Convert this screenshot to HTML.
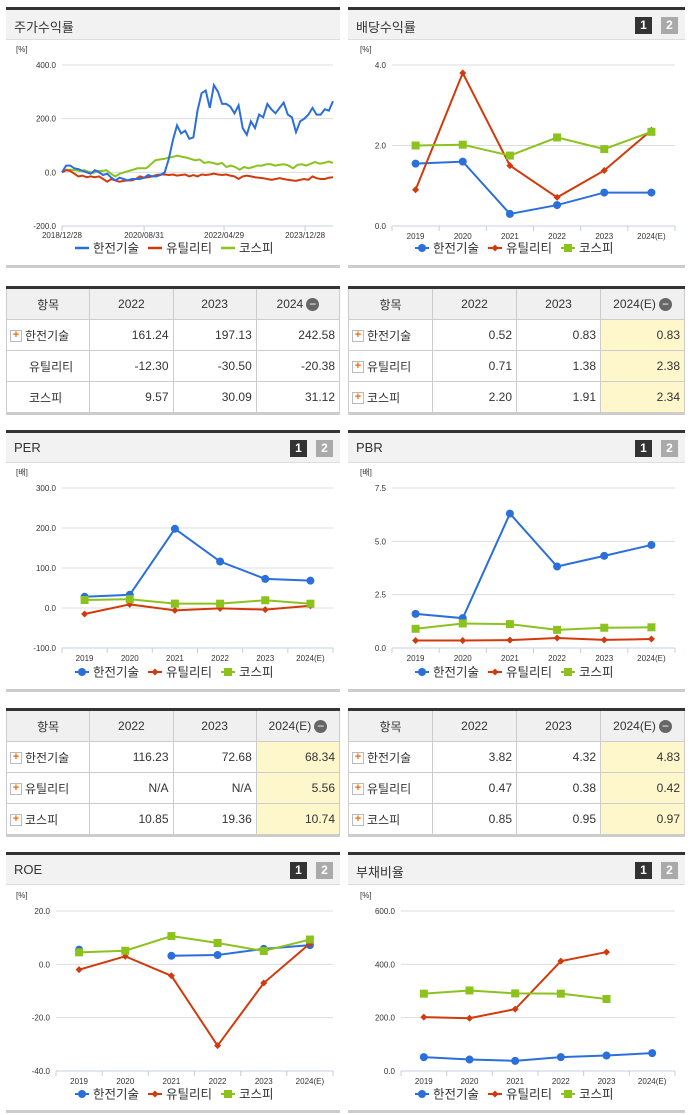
<!DOCTYPE html>
<html><head><meta charset="utf-8">
<style>
body{margin:0;background:#fff;font-family:"Liberation Sans","Noto Sans CJK KR",sans-serif;}
#root{position:relative;width:691px;height:1115px;overflow:hidden;}
.hdr{position:absolute;height:29px;background:#f2f2f2;border-top:3px solid #333;border-bottom:1px solid #ddd;font-size:13px;color:#333;box-sizing:content-box}
.hdr span.t{position:absolute;left:8px;top:7px}
.pg{position:absolute;top:7px;width:17px;height:17px;font-size:12px;font-weight:bold;color:#fff;text-align:center;line-height:17px}
.bot{position:absolute;height:3px;background:#ccc}
table{position:absolute;border-collapse:collapse;font-size:12px;color:#333;border-top:3px solid #333;border-bottom:3px solid #ccc}
td,th{border:1px solid #ccc;height:30px;padding:0 4px;font-weight:normal;vertical-align:middle}
th{background:#f0f0f0;text-align:center}
td{text-align:right}
td.n{text-align:left;padding-left:18px;position:relative}
td.hl{background:#fff7cc}
.pl{position:absolute;left:3px;top:10px;width:10px;height:10px;border:1px solid #bbb;background:#fff;color:#f60;font-size:11px;line-height:9px;text-align:center;font-weight:bold}
.mn{display:inline-block;width:13px;height:13px;border-radius:50%;background:#666;color:#fff;line-height:13px;font-size:12px;vertical-align:middle;margin-left:3px;text-align:center}
svg{position:absolute;left:0;top:0}
</style></head><body><div id="root">
<svg id="svg" width="691" height="1115"></svg>
</div>
<script>
// ---- data ----
const years=["2019","2020","2021","2022","2023","2024(E)"];
const stockKepco=[0,25,25,15,12,5,0,-5,8,0,-10,-5,-20,-30,-20,-25,-30,-25,-25,-25,-20,-10,-15,-15,-10,0,50,120,175,145,155,125,130,230,295,305,240,325,300,255,255,245,220,250,165,140,190,165,215,205,255,235,220,240,260,215,205,150,190,200,215,240,215,215,235,230,265];
const stockUtil=[0,8,5,-5,-15,-12,-18,-15,-18,-15,-25,-35,-25,-30,-35,-32,-30,-30,-25,-15,-20,-18,-15,-10,-8,-8,-10,-8,-12,-10,-8,-15,-10,-15,-8,-10,-8,-5,-8,-10,-8,-12,-15,-25,-15,-12,-15,-18,-20,-22,-25,-28,-25,-22,-25,-28,-30,-32,-28,-25,-28,-15,-22,-25,-25,-20,-18];
const stockKospi=[0,10,10,8,5,8,2,-2,5,5,8,-5,-15,-5,0,5,10,15,15,15,30,45,48,50,55,58,62,58,55,50,45,48,35,38,35,30,35,20,25,20,10,20,15,20,25,25,30,30,25,28,30,25,15,28,30,25,32,38,32,35,40,35];
const stockTicks=["2018/12/28","2020/08/31","2022/04/29","2023/12/28"];
const stockTickPos=[0,0.303,0.598,0.897];
const divKepco=[1.55,1.6,0.3,0.52,0.83,0.83];
const divUtil=[0.9,3.8,1.5,0.71,1.38,2.38];
const divKospi=[2.0,2.02,1.75,2.2,1.91,2.34];
const perKepco=[28,33,198,116.23,72.68,68.34];
const perUtil=[-15,9,-6,-1,-4,5.56];
const perKospi=[20,22,11,10.85,19.36,10.74];
const pbrKepco=[1.6,1.4,6.3,3.82,4.32,4.83];
const pbrUtil=[0.35,0.35,0.37,0.47,0.38,0.42];
const pbrKospi=[0.9,1.15,1.12,0.85,0.95,0.97];
const roeKepco=[5.5,null,3.2,3.5,5.8,7.2];
const roeUtil=[-2,3,-4.3,-30.5,-7,7.8];
const roeKospi=[4.5,5.1,10.6,8,5,9.3];
const debtKepco=[52,43,38,52,58,67];
const debtUtil=[202,198,232,412,446,null];
const debtKospi=[290,302,291,290,270,null];

const NS="http://www.w3.org/2000/svg";
const svg=document.getElementById('svg');
const root=document.getElementById('root');
function mk(tag,attrs,parent){const e=document.createElementNS(NS,tag);for(const k in attrs)e.setAttribute(k,attrs[k]);(parent||svg).appendChild(e);return e;}
const C={b:"#2a6fdb",r:"#d23a0c",g:"#8cc21e"};

function header(x,y,w,title,pages){
  const d=document.createElement('div');d.className='hdr';
  
  
  d.style.left=x+'px';d.style.top=y+'px';d.style.width=w+'px';
  d.innerHTML='<span class="t">'+title+'</span>';
  if(pages){
    const p1=document.createElement('div');p1.className='pg';p1.textContent='1';p1.style.background='#333';p1.style.left=(w-50)+'px';
    
    
    const p2=document.createElement('div');p2.className='pg';p2.textContent='2';p2.style.background='#aaa';p2.style.left=(w-24)+'px';
    
    
    d.appendChild(p1);d.appendChild(p2);
  }
  root.appendChild(d);
  return d;
}
function bottom(x,y,w){const d=document.createElement('div');d.className='bot';d.style.left=x+'px';d.style.top=y+'px';d.style.width=w+'px';
  
  
  root.appendChild(d);}

function marker(type,x,y,col,g){
  let e;
  if(type==='c')e=mk('circle',{cx:x,cy:y,r:4,fill:col},g);
  else if(type==='d')e=mk('path',{d:`M${x} ${y-3.5}L${x+3.5} ${y}L${x} ${y+3.5}L${x-3.5} ${y}Z`,fill:col},g);
  else e=mk('rect',{x:x-4,y:y-4,width:8,height:8,fill:col},g);
  
  
}
function legend(cx,y,lineOnly){
  const g=mk('g',{});
  const items=[["한전기술",C.b,'c'],["유틸리티",C.r,'d'],["코스피",C.g,'s']];
  const widths=[73,73,60];let x=cx-103;
  items.forEach((it,i)=>{
    const e=mk('g',{},g);
    
    
    mk('line',{x1:x,x2:x+14,y1:y,y2:y,stroke:it[1],'stroke-width':lineOnly?2.5:2},e);
    if(!lineOnly)marker(it[2],x+7,y,it[1],e);
    const t=mk('text',{x:x+18,y:y+4.5,'font-size':12.5,fill:'#333'},e);t.textContent=it[0];
    x+=widths[i];
  });
}
function yaxis(g,L,R,T,B,ticks,unit,fmt){
  const ys=v=>B-(v-ticks[0])/(ticks[ticks.length-1]-ticks[0])*(B-T);
  ticks.forEach(v=>{
    if(v!==ticks[0]){mk('line',{x1:L,x2:R,y1:ys(v),y2:ys(v),stroke:'#ddd'},g);}
    const t=mk('text',{x:L-6,y:ys(v)+3,'font-size':8,fill:'#333','text-anchor':'end'},g);t.textContent=v.toFixed(1);
    
  });
  const u=mk('text',{x:L-(fmt||40),y:T-13,'font-size':8,fill:'#333'},g);u.textContent=unit;
  
  mk('line',{x1:L,x2:R,y1:B,y2:B,stroke:'#c5cfe0'},g);
  mk('line',{x1:L,x2:L,y1:B,y2:B+5,stroke:'#c5cfe0'},g);
  return ys;
}
function catChart(name,L,R,T,B,ticks,unit,uoff,series){
  const g=mk('g',{});
  const ys=yaxis(g,L,R,T,B,ticks,unit,uoff);
  const band=(R-L)/years.length;const xs=i=>L+band*(i+0.5);
  years.forEach((y,i)=>{
    mk('line',{x1:L+band*(i+1),x2:L+band*(i+1),y1:B,y2:B+5,stroke:'#c5cfe0'},g);
    const t=mk('text',{x:xs(i),y:B+13,'font-size':8,fill:'#333','text-anchor':'middle'},g);t.textContent=y;
    
  });
  series.forEach(([vals,col,m])=>{
    const s=mk('g',{},g);
    let d='',pen=false;
    vals.forEach((v,i)=>{if(v===null){pen=false;return;}d+=(pen?'L':'M')+xs(i)+' '+ys(v);pen=true;});
    mk('path',{d:d,fill:'none',stroke:col,'stroke-width':2},s);
    vals.forEach((v,i)=>{if(v!==null)marker(m,xs(i),ys(v),col,s);});
  });
}

// panels
const LX=6,LW=334,RX=348,RW=337;
header(LX,7,LW,'주가수익률',false);header(RX,7,RW,'배당수익률',true);
bottom(LX,265,LW);bottom(RX,265,RW);
header(LX,430,LW,'PER',true);header(RX,430,RW,'PBR',true);
bottom(LX,689,LW);bottom(RX,689,RW);
header(LX,852,LW,'ROE',true);header(RX,852,RW,'부채비율',true);
bottom(LX,1110,LW);bottom(RX,1110,RW);

// stock chart
(function(){
  const L=62,R=333,T=65,B=226;
  const g=mk('g',{});
  const ys=yaxis(g,L,R,T,B,[-200,0,200,400],'[%]',46);
  stockTicks.forEach((s,i)=>{const x=L+stockTickPos[i]*(R-L);
    mk('line',{x1:x,x2:x,y1:B,y2:B+5,stroke:'#c5cfe0'},g);
    const t=mk('text',{x:x,y:B+12,'font-size':8,fill:'#333','text-anchor':'middle'},g);t.textContent=s;
    });
  [[stockKospi,C.g],[stockUtil,C.r],[stockKepco,C.b]].forEach(([v,c])=>{
    const d=v.map((y,i)=>(i?'L':'M')+(L+i/(v.length-1)*(R-L)).toFixed(1)+' '+ys(y).toFixed(1)).join('');
    const p=mk('path',{d:d,fill:'none',stroke:c,'stroke-width':2},g);
    
  });
  legend(178,248,true);
})();
catChart('dividend-yield-chart',392,675,65,226,[0,2,4],'[%]',32,[[divKepco,C.b,'c'],[divUtil,C.r,'d'],[divKospi,C.g,'s']]);
legend(518,248);
catChart('per-chart',62,333,488,648,[-100,0,100,200,300],'[배]',46,[[perKepco,C.b,'c'],[perUtil,C.r,'d'],[perKospi,C.g,'s']]);
legend(178,672);
catChart('pbr-chart',392,675,488,648,[0,2.5,5,7.5],'[배]',32,[[pbrKepco,C.b,'c'],[pbrUtil,C.r,'d'],[pbrKospi,C.g,'s']]);
legend(518,672);
catChart('roe-chart',56,333,911,1071,[-40,-20,0,20],'[%]',40,[[roeKepco,C.b,'c'],[roeUtil,C.r,'d'],[roeKospi,C.g,'s']]);
legend(178,1094);
catChart('debt-ratio-chart',401,675,911,1071,[0,200,400,600],'[%]',41,[[debtKepco,C.b,'c'],[debtUtil,C.r,'d'],[debtKospi,C.g,'s']]);
legend(518,1094);

// tables
function table(x,y,w,head,rows,hl){
  const t=document.createElement('table');t.style.left=x+'px';t.style.top=y+'px';t.style.width=w+'px';
  
  
  let h='<tr>'+head.map((c,i)=>'<th style="width:25%">'+c+(i==3?'<span class="mn">−</span>':'')+'</th>').join('')+'</tr>';
  rows.forEach(r=>{h+='<tr>'+r.map((c,i)=>{
    if(i==0)return '<td class="n" style="'+(r[4]?'':'padding-left:22px')+'">'+(r[4]?'<span class="pl">+</span>':'')+c+'</td>';
    if(i>3)return '';
    return '<td'+(i==3&&hl?' class="hl"':'')+'>'+c+'</td>';}).join('')+'</tr>';});
  t.innerHTML=h;root.appendChild(t);
}
table(LX,286,LW,['항목','2022','2023','2024'],[['한전기술','161.24','197.13','242.58',1],['유틸리티','-12.30','-30.50','-20.38',0],['코스피','9.57','30.09','31.12',0]],false);
table(RX,286,RW,['항목','2022','2023','2024(E)'],[['한전기술','0.52','0.83','0.83',1],['유틸리티','0.71','1.38','2.38',1],['코스피','2.20','1.91','2.34',1]],true);
table(LX,708,LW,['항목','2022','2023','2024(E)'],[['한전기술','116.23','72.68','68.34',1],['유틸리티','N/A','N/A','5.56',1],['코스피','10.85','19.36','10.74',1]],true);
table(RX,708,RW,['항목','2022','2023','2024(E)'],[['한전기술','3.82','4.32','4.83',1],['유틸리티','0.47','0.38','0.42',1],['코스피','0.85','0.95','0.97',1]],true);
</script>
</body></html>
